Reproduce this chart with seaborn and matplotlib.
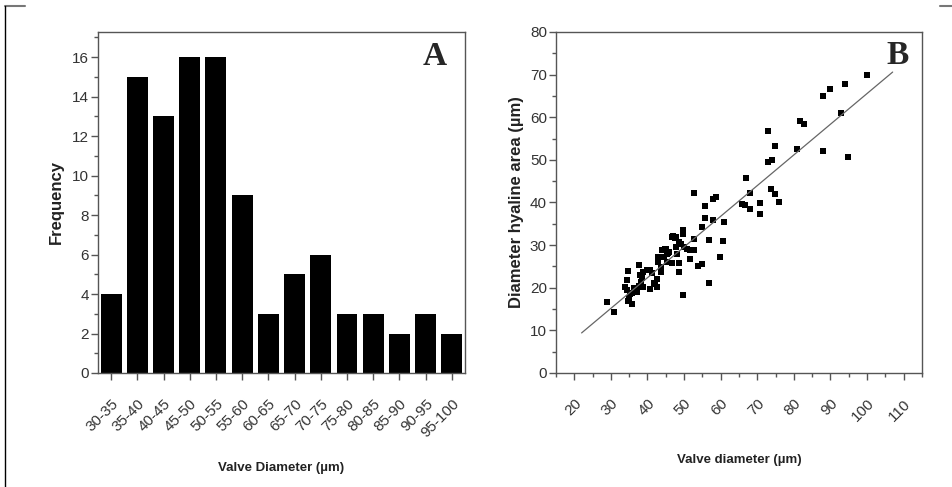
import numpy as np
import matplotlib
matplotlib.use("Agg")
import matplotlib.pyplot as plt
from matplotlib.lines import Line2D
from matplotlib.ticker import MultipleLocator
import seaborn as sns

# panel A: valve diameter histogram
size_classes = ['30-35', '35-40', '40-45', '45-50', '50-55', '55-60', '60-65',
                '65-70', '70-75', '75-80', '80-85', '85-90', '90-95', '95-100']
frequency = [4, 15, 13, 16, 16, 9, 3, 5, 6, 3, 3, 2, 3, 2]

# panel B: valve diameter vs diameter of hyaline area
valve_diameter = [
    29.0, 30.8, 33.8, 34.3, 34.5, 34.8, 34.8, 35.0, 35.2, 35.7, 35.9, 36.4,
    36.8, 37.1, 37.8, 37.8, 38.0, 38.1, 38.4, 38.8, 38.9, 39.8, 40.7, 40.7,
    41.2, 41.8, 42.1, 42.5, 42.6, 42.8, 42.8, 43.7, 43.7, 43.9, 44.4, 44.6,
    44.8, 45.1, 45.3, 45.3, 45.7, 45.8, 46.7, 46.7, 47.1, 47.6, 47.8, 47.8,
    48.2, 48.6, 48.7, 48.7, 49.2, 49.7, 49.8, 49.7, 50.0, 50.7, 51.6, 51.6,
    52.6, 52.6, 52.7, 53.8, 54.8, 54.8, 55.8, 55.8, 56.7, 56.7, 57.8, 57.8,
    58.7, 59.9, 60.6, 60.8, 65.8, 66.7, 67.0, 67.9, 67.9, 70.8, 70.8, 72.9,
    72.9, 73.8, 74.0, 74.9, 74.9, 76.0, 80.8, 81.7, 82.8, 88.0, 88.0, 89.9,
    92.9, 93.9, 94.8, 100.0]
hyaline_diameter = [
    16.6, 14.4, 20.1, 19.4, 21.8, 23.9, 17.0, 17.5, 18.5, 18.8, 16.2, 19.9,
    19.4, 19.1, 25.4, 20.3, 23.0, 21.4, 22.2, 23.7, 20.2, 24.2, 24.2, 19.8,
    23.5, 21.0, 20.9, 20.2, 22.0, 27.2, 26.0, 23.7, 24.9, 28.8, 28.9, 27.2,
    29.2, 29.1, 28.0, 26.0, 28.1, 28.4, 31.9, 25.8, 32.1, 31.6, 31.9, 29.6,
    28.0, 30.7, 25.8, 23.7, 30.3, 33.6, 32.7, 18.4, 29.6, 29.2, 28.8, 26.8,
    28.8, 31.4, 42.2, 25.0, 25.5, 34.3, 39.2, 36.4, 31.3, 21.1, 40.8, 36.0,
    41.2, 27.1, 31.0, 35.4, 39.6, 39.3, 45.7, 42.3, 38.5, 39.8, 37.2, 56.7,
    49.6, 43.1, 50.0, 53.2, 41.9, 40.2, 52.5, 59.2, 58.5, 65.0, 52.0, 66.6,
    61.0, 67.7, 50.7, 70.0]
fit_x = [22, 107]
fit_y = [9.4, 70.6]

sns.set_theme(style="ticks")
plt.rcParams['font.family'] = ['Liberation Sans', 'DejaVu Sans']

spine_col = '#555555'
text_col = '#333333'

fig = plt.figure(figsize=(9.53, 4.87), dpi=100)
ax1 = fig.add_axes([0.1028, 0.2341, 0.3851, 0.7002])
ax2 = fig.add_axes([0.5834, 0.2341, 0.3840, 0.7002])

# --- A ---
sns.barplot(x=size_classes, y=frequency, color='black', saturation=1,
            width=0.8, edgecolor='black', linewidth=0, ax=ax1)
ax1.set_xlim(-0.5, 13.5)
ax1.set_ylim(0, 17.27)
ax1.yaxis.set_major_locator(MultipleLocator(2))
ax1.yaxis.set_minor_locator(MultipleLocator(1))
ax1.set_xticks(range(len(size_classes)))
ax1.set_xticklabels(size_classes, rotation=45, ha='right', rotation_mode='anchor')
ax1.set_xlabel('Valve Diameter (µm)', fontsize=9.5, fontweight='bold', labelpad=16)
ax1.set_ylabel('Frequency', fontsize=12, fontweight='bold', labelpad=6)

# --- B ---
sns.scatterplot(x=valve_diameter, y=hyaline_diameter, marker='s', s=24,
                color='black', linewidth=0, ax=ax2)
sns.lineplot(x=fit_x, y=fit_y, color='#666666', linewidth=0.9, ax=ax2)
ax2.set_xlim(15, 115)
ax2.set_ylim(0, 80)
ax2.xaxis.set_major_locator(MultipleLocator(10))
ax2.xaxis.set_minor_locator(MultipleLocator(5))
ax2.yaxis.set_major_locator(MultipleLocator(10))
ax2.yaxis.set_minor_locator(MultipleLocator(5))
ax2.set_xticks(range(20, 111, 10))
ax2.set_xticklabels([str(v) for v in range(20, 111, 10)], rotation=45,
                    ha='right', rotation_mode='anchor')
ax2.set_xlabel('Valve diameter (µm)', fontsize=9.5, fontweight='bold', labelpad=21)
ax2.set_ylabel('Diameter hyaline area (µm)', fontsize=12, fontweight='bold', labelpad=4)

for ax in (ax1, ax2):
    for sp in ax.spines.values():
        sp.set_visible(True)
        sp.set_color(spine_col)
        sp.set_linewidth(1.0)
    ax.tick_params(which='major', length=5, width=1, color=spine_col,
                   labelsize=11, labelcolor=text_col, pad=1.5,
                   top=False, right=False)
    ax.tick_params(which='minor', length=3, width=1, color=spine_col,
                   top=False, right=False)
    ax.tick_params(axis='x', which='major', pad=12)
    ax.xaxis.label.set_color('#222222')
    ax.yaxis.label.set_color('#222222')
ax1.tick_params(axis='x', which='minor', bottom=False)

fig.text(0.4565, 0.885, 'A', fontsize=24, fontweight='bold',
         family='Liberation Serif', ha='center', va='center')
fig.text(0.9423, 0.887, 'B', fontsize=24, fontweight='bold',
         family='Liberation Serif', ha='center', va='center')

# frame marks round the figure
top = 1 - 6 / 487
fig.add_artist(Line2D([5 / 953, 25 / 953], [top, top], color='#777777', lw=1.5,
                      transform=fig.transFigure))
fig.add_artist(Line2D([5 / 953, 5 / 953], [0, top], color='black', lw=1,
                      transform=fig.transFigure))
fig.add_artist(Line2D([940 / 953, 1], [top, top], color='#777777', lw=1.5,
                      transform=fig.transFigure))

fig.savefig('out.png', dpi=100)
